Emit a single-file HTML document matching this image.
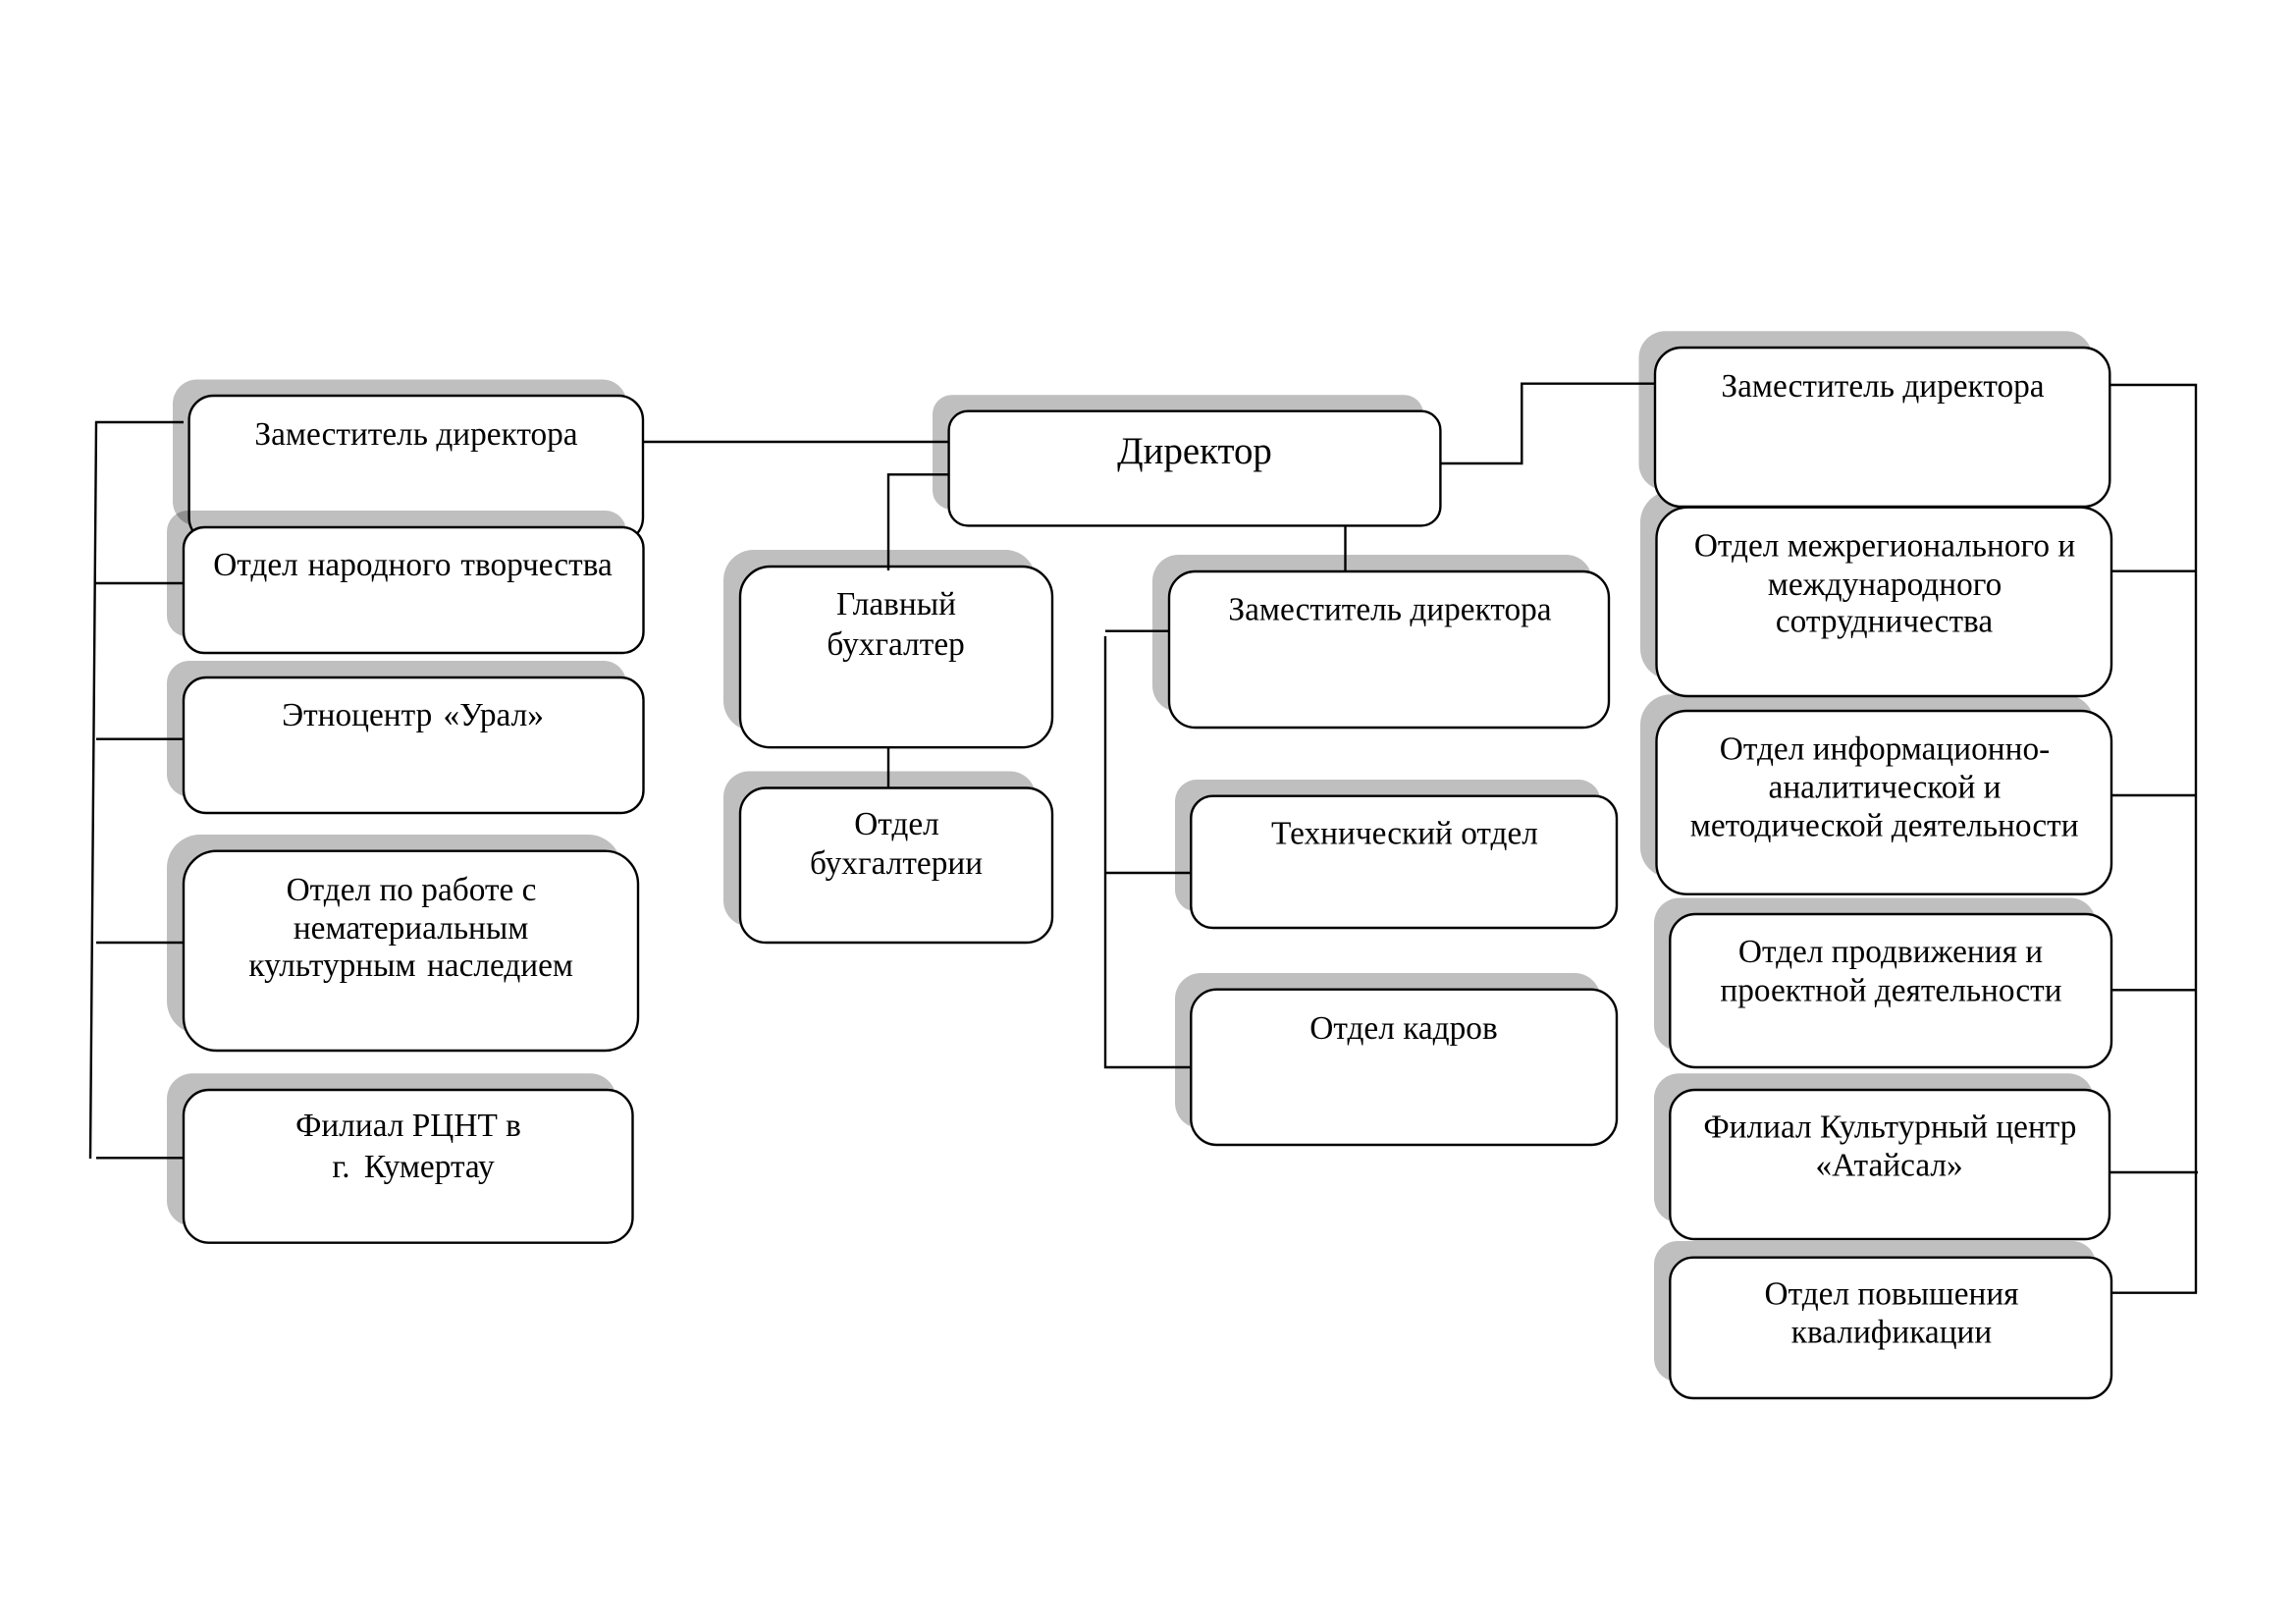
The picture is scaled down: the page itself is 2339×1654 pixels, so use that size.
<!DOCTYPE html>
<html lang="ru">
<head>
<meta charset="utf-8">
<title>Структура</title>
<style>
html,body{margin:0;padding:0;background:#fff}
svg{display:block}
text{font-family:"Liberation Serif","Noto Serif CJK SC",serif;font-size:33.33px;fill:#000;text-anchor:middle}
.s{fill:#000;fill-opacity:.25;stroke:none}
.b{fill:#fff;stroke:#000;stroke-width:2.4}
.l{stroke:#000;stroke-width:2.4;fill:none}
</style>
</head>
<body>
<svg xmlns="http://www.w3.org/2000/svg" width="2339" height="1654" viewBox="0 0 2339 1654">
<rect width="2339" height="1654" fill="#fff"/>

<!-- left column -->
<rect class="s" x="176" y="386.5" width="462.5" height="149" rx="24.8"/>
<rect class="b" x="192.6" y="403" width="462.4" height="149" rx="24.8"/>
<rect class="s" x="170" y="520" width="468" height="128.5" rx="21.4"/>
<rect class="b" x="187" y="537" width="468.5" height="128" rx="21.4"/>
<rect class="s" x="170" y="673" width="468" height="138.5" rx="23"/>
<rect class="b" x="187" y="690" width="468.5" height="138" rx="23"/>
<rect class="s" x="170" y="850" width="463" height="203.5" rx="33.8"/>
<rect class="b" x="187" y="866.7" width="463" height="203.3" rx="33.8"/>
<rect class="s" x="170" y="1093.3" width="457.5" height="155.7" rx="26"/>
<rect class="b" x="187" y="1110" width="457.5" height="155.7" rx="26"/>

<!-- director -->
<rect class="s" x="950" y="402.3" width="500" height="116.7" rx="19.5"/>
<rect class="b" x="966.6" y="418.7" width="500.8" height="116.7" rx="19.5"/>

<!-- accounting -->
<rect class="s" x="737" y="560" width="318" height="184.5" rx="30.7"/>
<rect class="b" x="754" y="577" width="318" height="184.2" rx="30.7"/>
<rect class="s" x="737" y="785.5" width="318" height="158" rx="26.2"/>
<rect class="b" x="754" y="802.5" width="318" height="157.5" rx="26.2"/>

<!-- centre column -->
<rect class="s" x="1174" y="565" width="448" height="160" rx="26.7"/>
<rect class="b" x="1191" y="582" width="448" height="159" rx="26.7"/>
<rect class="s" x="1197" y="794" width="433.5" height="134.5" rx="22.4"/>
<rect class="b" x="1213.3" y="810.7" width="433.7" height="134.3" rx="22.4"/>
<rect class="s" x="1197" y="991" width="433.5" height="158.5" rx="26.4"/>
<rect class="b" x="1213.3" y="1007.7" width="433.7" height="158.3" rx="26.4"/>

<!-- right column (back to front) -->
<rect class="s" x="1685" y="1264" width="450" height="143.3" rx="23.9"/>
<rect class="b" x="1701.3" y="1280.7" width="449.7" height="143.3" rx="23.9"/>
<rect class="s" x="1685" y="1093.3" width="447.5" height="152" rx="25.3"/>
<rect class="b" x="1701.3" y="1110" width="447.7" height="152" rx="25.3"/>
<rect class="s" x="1685" y="914.5" width="450" height="156" rx="26"/>
<rect class="b" x="1701.3" y="931" width="449.7" height="156" rx="26"/>
<rect class="s" x="1671" y="707.3" width="463" height="186.7" rx="31"/>
<rect class="b" x="1687.5" y="724" width="463.5" height="186.7" rx="31"/>
<rect class="s" x="1671" y="500" width="463" height="192.5" rx="32"/>
<rect class="b" x="1687.5" y="516.7" width="463.5" height="192.3" rx="32"/>
<rect class="s" x="1669.5" y="337.3" width="462" height="162" rx="27"/>
<rect class="b" x="1686" y="354" width="463.3" height="162" rx="27"/>

<!-- connectors -->
<path class="l" d="M98 430L92 1180"/>
<path class="l" d="M97 430H187M96 594H187M98 752.7H187M98 960H187M98 1179.3H187"/>
<path class="l" d="M655 450H966.6"/>
<path class="l" d="M966.6 483.3H905V581"/>
<path class="l" d="M905 761V802"/>
<path class="l" d="M1370.5 535.4V581"/>
<path class="l" d="M1126 642.7H1191"/>
<path class="l" d="M1126 648V1087H1213"/>
<path class="l" d="M1126 889H1213"/>
<path class="l" d="M1467.4 472H1550.3V390.7H1686"/>
<path class="l" d="M2149 392H2237V1317"/>
<path class="l" d="M2151 581.7H2238M2151 810H2238M2151 1008.3H2238M2149 1194H2239M2151 1316.7H2238"/>

<!-- labels -->
<text x="424" y="453">Заместитель директора</text>
<text x="420.5" y="586" style="word-spacing:1.5px">Отдел народного творчества</text>
<text x="420.5" y="739" style="word-spacing:3px">Этноцентр «Урал»</text>
<text x="419" y="917">Отдел по работе с</text>
<text x="418.6" y="956">нематериальным</text>
<text x="418.7" y="994" style="word-spacing:3px">культурным наследием</text>
<text x="416" y="1157">Филиал РЦНТ в</text>
<text x="421" y="1199" style="word-spacing:6px">г. Кумертау</text>

<text x="1217" y="472" style="font-size:38.89px">Директор</text>

<text x="913" y="626">Главный</text>
<text x="912.6" y="667">бухгалтер</text>
<text x="913.5" y="850">Отдел</text>
<text x="913" y="890">бухгалтерии</text>

<text x="1416" y="631.5">Заместитель директора</text>
<text x="1431" y="859.5">Технический отдел</text>
<text x="1430" y="1058">Отдел кадров</text>

<text x="1918" y="404">Заместитель директора</text>
<text x="1920" y="566.5">Отдел межрегионального и</text>
<text x="1920" y="606">международного</text>
<text x="1919.5" y="643.5">сотрудничества</text>
<text x="1920" y="773.5">Отдел информационно-</text>
<text x="1920" y="812.5">аналитической и</text>
<text x="1919.7" y="851.5">методической деятельности</text>
<text x="1926" y="980">Отдел продвижения и</text>
<text x="1926.5" y="1019.5">проектной деятельности</text>
<text x="1925.4" y="1158.5">Филиал Культурный центр</text>
<text x="1924.6" y="1197.5">«Атайсал»</text>
<text x="1927" y="1328.5">Отдел повышения</text>
<text x="1927" y="1367.5">квалификации</text>
</svg>
</body>
</html>
